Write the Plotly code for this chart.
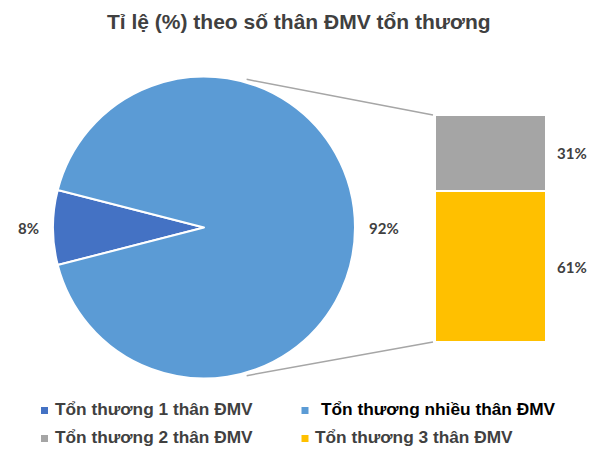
import math
import plotly.graph_objects as go

# Primary split: single-vessel vs multi-vessel lesions (percent of patients)
pie_labels = ["Tổn thương 1 thân ĐMV", "Tổn thương nhiều thân ĐMV"]
pie_values = [8, 92]
pie_colors = ["#4472C4", "#5B9BD5"]

# Breakdown of the multi-vessel group (percent of all patients)
bar_labels = ["Tổn thương 3 thân ĐMV", "Tổn thương 2 thân ĐMV"]  # bottom to top
bar_values = [61, 31]
bar_colors = ["#FFC000", "#A5A5A5"]

title_text = "Tỉ lệ (%) theo số thân ĐMV tổn thương"

W, H = 591, 450


def px_x(x):
    return x / W


def px_y(y):
    return 1 - y / H


TEXT = "#404040"
LABEL_FONT = dict(family="Lato, Liberation Sans, sans-serif", size=15, color=TEXT)

# geometry (pixels)
pie_cx, pie_cy, pie_r = 204, 227.5, 151
bar_left, bar_right, bar_top, bar_bottom = 435, 546, 115, 342

fig = go.Figure()

first_share = pie_values[0] / sum(pie_values)
fig.add_trace(go.Pie(
    labels=pie_labels,
    values=pie_values,
    sort=False,
    direction="clockwise",
    rotation=270 - first_share * 360 / 2,
    marker=dict(colors=pie_colors, line=dict(color="white", width=2)),
    textinfo="none",
    showlegend=False,
    domain=dict(x=[px_x(pie_cx - pie_r), px_x(pie_cx + pie_r)],
                y=[px_y(pie_cy + pie_r), px_y(pie_cy - pie_r)]),
))

for lab, val, col in zip(bar_labels, bar_values, bar_colors):
    fig.add_trace(go.Bar(
        x=[0], y=[val], name=lab, width=1,
        marker=dict(color=col, line=dict(color="white", width=2)),
        showlegend=False,
    ))

annotations = []
# pie labels
for txt, x in ((f"<b>{pie_values[0]}%</b>", 28), (f"<b>{pie_values[1]}%</b>", 384)):
    annotations.append(dict(x=px_x(x), y=px_y(228), xref="paper", yref="paper",
                            xanchor="center", yanchor="middle",
                            text=txt, showarrow=False, font=LABEL_FONT))
# bar labels, centred on each stacked segment
base = 0
for val in bar_values:
    annotations.append(dict(x=0.5, y=base + val / 2, xref="x", yref="y",
                            xanchor="left", yanchor="middle", xshift=9,
                            text=f"<b>{val}%</b>",
                            showarrow=False, font=LABEL_FONT))
    base += val

annotations.append(dict(x=px_x(299), y=px_y(22), xref="paper", yref="paper",
                        xanchor="center", yanchor="middle",
                        text=f"<b>{title_text}</b>", showarrow=False,
                        font=dict(family="Liberation Sans, Arial, sans-serif",
                                  size=21, color=TEXT)))

# legend: (label, colour, marker x, text x, row y, text colour)
legend_items = [
    (pie_labels[0], pie_colors[0], 44.5, 53, 409, TEXT),
    (pie_labels[1], pie_colors[1], 305, 319, 409, "#000000"),
    (bar_labels[1], bar_colors[1], 44.5, 53, 437, TEXT),
    (bar_labels[0], bar_colors[0], 305, 313, 437, TEXT),
]
shapes = []
for lab, col, mx, tx, ty, tc in legend_items:
    shapes.append(dict(type="rect", xref="paper", yref="paper",
                       x0=px_x(mx - 3.5), x1=px_x(mx + 3.5),
                       y0=px_y(ty + 5), y1=px_y(ty - 2),
                       fillcolor=col, line=dict(width=0)))
    annotations.append(dict(x=px_x(tx), y=px_y(ty), xref="paper", yref="paper",
                            xanchor="left", yanchor="middle",
                            text=f"<b>{lab}</b>", showarrow=False,
                            font=dict(family="Liberation Sans, Arial, sans-serif",
                                      size=17.3, color=tc)))

# connector lines from the multi-vessel slice to the breakdown bar
ang = math.radians(16)
for sign, by in ((-1, bar_top), (1, bar_bottom)):
    sx = pie_cx + pie_r * math.sin(ang) + 1
    sy = pie_cy + sign * (pie_r * math.cos(ang) + 3)
    shapes.append(dict(type="line", xref="paper", yref="paper",
                       x0=px_x(sx), y0=px_y(sy), x1=px_x(bar_left - 2), y1=px_y(by),
                       line=dict(color="#A6A6A6", width=1.5)))

fig.update_layout(
    width=W, height=H,
    margin=dict(l=0, r=0, t=0, b=0),
    paper_bgcolor="white", plot_bgcolor="white",
    barmode="stack",
    bargap=0,
    xaxis=dict(domain=[px_x(bar_left), px_x(bar_right)], range=[-0.5, 0.5],
               visible=False, fixedrange=True),
    yaxis=dict(domain=[px_y(bar_bottom), px_y(bar_top)], range=[0, sum(bar_values)],
               visible=False, fixedrange=True),
    annotations=annotations,
    shapes=shapes,
    showlegend=False,
)

fig.write_html("out.html")
